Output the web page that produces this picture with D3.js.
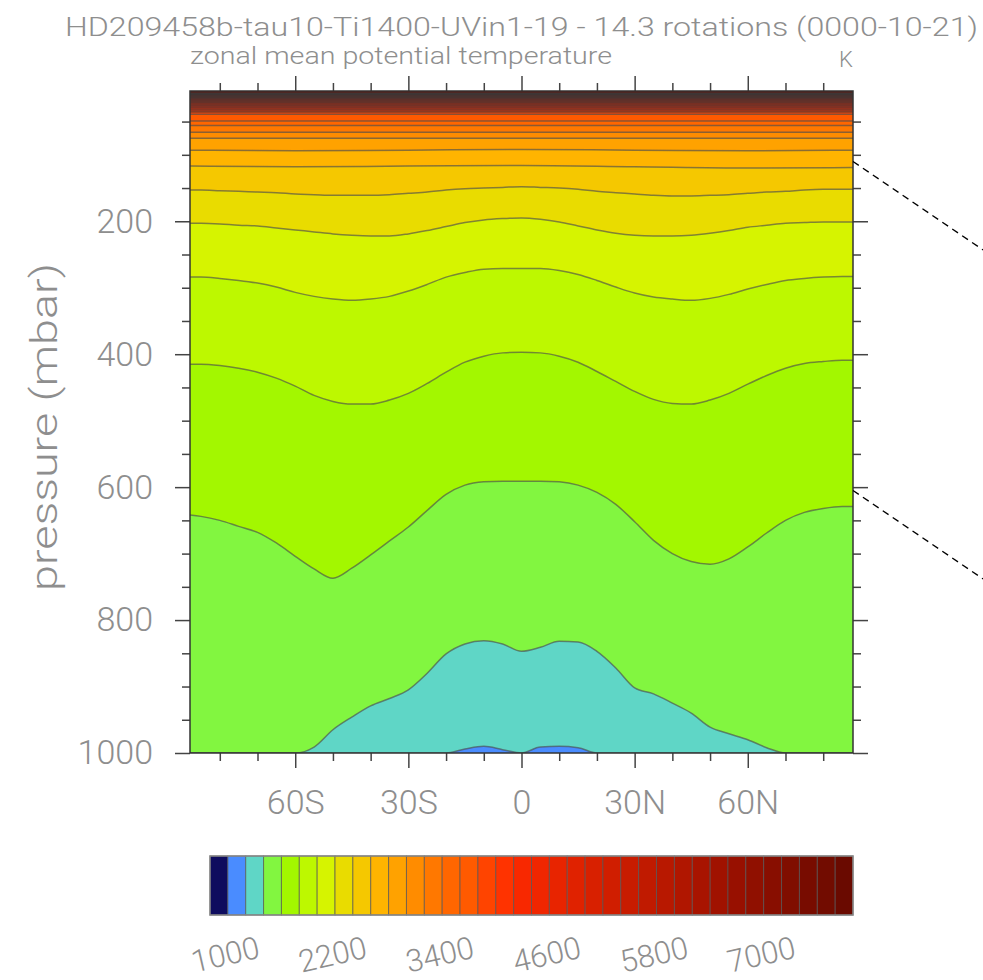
<!DOCTYPE html>
<html>
<head>
<meta charset="utf-8">
<script src="https://cdn.jsdelivr.net/npm/d3@7"></script>
<style>
  body { margin: 0; background: #fff; }
  text { font-family: Roboto, "Liberation Sans", sans-serif; font-weight: 300; fill: #8e8e8e; }
</style>
</head>
<body>
<div id="chart"></div>
<script>
// contour levels (K) and colour of each band of the key, lowest first
var levels = d3.range(1000, 7801, 200);
var bandColors = ["#0e0c5e", "#4a8cff", "#5fd6c6", "#82f640", "#a3f700", "#bdf800", "#d6f400", "#e9dc00",
  "#f5c800", "#ffb400", "#ffa200", "#ff8c00", "#ff7800", "#ff6600", "#ff5a00", "#ff4400", "#ff3300",
  "#f82800", "#f02600", "#e82400", "#e02200", "#d82000", "#d01e00", "#c81c00", "#c01a00", "#b81800",
  "#b01600", "#a81400", "#a01200", "#981000", "#901000", "#880e00", "#800e00", "#780c00", "#720c00", "#6a0a00"];
var keyLabels = [1000, 2200, 3400, 4600, 5800, 7000];

// latitude grid of the traced contours
var lat = [-87.9, -85, -80, -75, -70, -65, -60, -55, -50, -45, -40, -35, -30, -25, -20, -15, -10, -5, 0,
  5, 10, 15, 20, 25, 30, 35, 40, 45, 50, 55, 60, 65, 70, 75, 80, 85, 87.9];

// pressure (mbar) of each contour along lat
var p1200 = [1000, 1000, 1000, 1000, 1000, 1000, 1000, 1000, 1000, 1000, 1000, 1000, 1000, 1000, 1000, 994, 990, 995, 1000,
  991, 990, 992, 1000, 1000, 1000, 1000, 1000, 1000, 1000, 1000, 1000, 1000, 1000, 1000, 1000, 1000, 1000];
var p1400 = [1000, 1000, 1000, 1000, 1000, 1000, 1000, 991, 965, 946, 929, 918, 905, 880, 851, 836, 831, 836, 847,
  841, 832, 833, 847, 872, 902, 911, 925, 940, 961, 971, 980, 992, 1000, 1000, 1000, 1000, 1000];
var p1600 = [642, 644, 650, 659, 668, 684, 704, 723, 737, 722, 702, 681, 660, 635, 611, 597, 592, 591, 591,
  591, 592, 597, 608, 626, 652, 680, 700, 712, 716, 708, 690, 669, 650, 638, 632, 629, 629];
var p1800 = [415, 415, 417, 421, 427, 436, 448, 462, 471, 475, 475, 469, 459, 444, 427, 412, 403, 398, 397,
  398, 403, 412, 426, 441, 456, 468, 474, 475, 469, 459, 445, 432, 421, 414, 411, 409, 409];
var p2000 = [284, 284, 286, 289, 293, 299, 307, 313, 317, 319, 317, 313, 305, 295, 284, 277, 272, 271, 271,
  271, 274, 280, 289, 299, 308, 314, 317, 319, 316, 310, 302, 295, 289, 286, 284, 283, 283];
var p2200 = [203, 203, 204, 206, 207, 210, 213, 216, 219, 221, 222, 222, 219, 214, 208, 202, 198, 196, 195,
  197, 201, 207, 213, 218, 221, 222, 222, 221, 218, 214, 209, 206, 203, 202, 201, 201, 201];
var p2400 = [153, 153, 154, 155, 156, 157, 159, 160, 161, 161, 161, 160, 158, 156, 153, 151, 150, 149, 148,
  149, 150, 152, 155, 157, 159, 161, 162, 162, 161, 160, 158, 156, 155, 153, 152, 152, 152];

// upper contours are almost flat: coarse latitudes
var latCoarse = [-87.9, -60, -30, 0, 30, 60, 87.9];
var p2600 = [117, 118, 117, 116, 118, 120, 119];
var p2800 = [93, 94, 93, 92, 93, 94, 93];

// dense levels near the model top, one pressure each
var upperLevels = [3000, 3200, 3400, 3600, 3800, 4000, 4200, 4400, 4600, 4800, 5000, 5200, 5400, 5600,
  5800, 6000, 6200, 6400, 6600, 6800, 7000, 7200, 7400, 7600, 7800];
var upperP = [75, 66, 56, 49, 39, 35, 32, 29.5, 27.5, 25.5, 23.5, 21.5, 20, 18.5, 17, 15.5, 14.5,
  13.5, 12.5, 11.5, 10.5, 9.5, 8.7, 8, 7.3];

// axes
var pMajor = [200, 400, 600, 800, 1000];
var pMinor = [50, 100, 150, 250, 300, 350, 450, 500, 550, 650, 700, 750, 850, 900, 950];
var latMajor = [-60, -30, 0, 30, 60];
var latMajorLabels = ["60S", "30S", "0", "30N", "60N"];
var latMinor = [-80, -70, -50, -40, -20, -10, 10, 20, 40, 50, 70, 80];
var zoomP = [110, 605];

var width = 983, height = 980;
var pTop = 4;

var svg = d3.select("#chart").append("svg")
  .attr("width", width)
  .attr("height", height);

var x = d3.scaleLinear().domain([-87.9, 87.9]).range([190, 853]);
var y = d3.scaleLinear().domain([pTop, 1000]).range([91, 753]);

var contours = [
  {level: 1200, lat: lat, p: p1200},
  {level: 1400, lat: lat, p: p1400},
  {level: 1600, lat: lat, p: p1600},
  {level: 1800, lat: lat, p: p1800},
  {level: 2000, lat: lat, p: p2000},
  {level: 2200, lat: lat, p: p2200},
  {level: 2400, lat: lat, p: p2400},
  {level: 2600, lat: latCoarse, p: p2600},
  {level: 2800, lat: latCoarse, p: p2800}
];
upperLevels.forEach(function(l, i) {
  contours.push({level: l, lat: [-87.9, 87.9], p: [upperP[i], upperP[i]]});
});
contours.forEach(function(c, i) {
  c.pts = c.lat.map(function(la, j) { return [la, c.p[j]]; });
  // packed lines near the top merge into one dark band
  var next = contours[i + 1];
  var gap = next ? y(d3.min(c.p)) - y(d3.max(next.p)) : y(d3.min(c.p)) - y(pTop);
  c.width = c.level >= 4000 ? Math.max(1.5, gap + 0.3) : 1.5;
});

function colorAbove(level) { return bandColors[levels.indexOf(level) + 1]; }

svg.append("clipPath").attr("id", "plotclip")
  .append("rect")
  .attr("x", x.range()[0]).attr("y", y.range()[0])
  .attr("width", x.range()[1] - x.range()[0])
  .attr("height", y.range()[1] - y.range()[0]);

var plot = svg.append("g").attr("clip-path", "url(#plotclip)");

// 1000-1200 K band underneath everything
plot.append("rect")
  .attr("x", x.range()[0]).attr("y", y.range()[0])
  .attr("width", x.range()[1] - x.range()[0])
  .attr("height", y.range()[1] - y.range()[0])
  .attr("fill", bandColors[1]);

var area = d3.area()
  .curve(d3.curveMonotoneX)
  .x(function(d) { return x(d[0]); })
  .y0(y(pTop) - 2)
  .y1(function(d) { return y(d[1]); });

var line = d3.line()
  .curve(d3.curveMonotoneX)
  .x(function(d) { return x(d[0]); })
  .y(function(d) { return y(d[1]); });

plot.selectAll(".band")
  .data(contours)
  .enter().append("path")
  .attr("class", "band")
  .attr("d", function(c) { return area(c.pts); })
  .attr("fill", function(c) { return colorAbove(c.level); });

plot.selectAll(".cline")
  .data(contours)
  .enter().append("path")
  .attr("class", "cline")
  .attr("d", function(c) { return line(c.pts); })
  .attr("fill", "none")
  .attr("stroke", function(c) { return c.level >= 4000 ? "#3a3a3a" : "#4d4d4d"; })
  .attr("stroke-opacity", function(c) { return c.level >= 4000 ? 0.6 : 0.65; })
  .attr("stroke-width", function(c) { return c.width; });

// ticks
function tickAxis(axis, vals, size) {
  return axis.tickValues(vals).tickSize(size).tickFormat("");
}
var axes = svg.append("g").attr("class", "axes");
axes.append("g").attr("transform", "translate(" + x.range()[0] + ",0)").call(tickAxis(d3.axisLeft(y), pMinor, 8));
axes.append("g").attr("transform", "translate(" + x.range()[1] + ",0)").call(tickAxis(d3.axisRight(y), pMinor, 8));
axes.append("g").attr("transform", "translate(" + x.range()[1] + ",0)").call(tickAxis(d3.axisRight(y), pMajor, 15));
axes.append("g").attr("transform", "translate(0," + y.range()[0] + ")").call(tickAxis(d3.axisTop(x), latMinor, 8));
axes.append("g").attr("transform", "translate(0," + y.range()[0] + ")").call(tickAxis(d3.axisTop(x), latMajor, 15));
axes.append("g").attr("transform", "translate(0," + y.range()[1] + ")").call(tickAxis(d3.axisBottom(x), latMinor, 8));

var yAxis = axes.append("g")
  .attr("transform", "translate(" + x.range()[0] + ",0)")
  .call(d3.axisLeft(y).tickValues(pMajor).tickSize(15).tickPadding(22).tickFormat(d3.format("d")));
var xAxis = axes.append("g")
  .attr("transform", "translate(0," + y.range()[1] + ")")
  .call(d3.axisBottom(x).tickValues(latMajor).tickSize(15).tickPadding(22)
    .tickFormat(function(d, i) { return latMajorLabels[i]; }));

axes.selectAll(".domain").remove();
axes.selectAll(".tick line").attr("stroke", "#444").attr("stroke-width", 1.5);
axes.selectAll("text")
  .attr("fill", "#9a9a9a")
  .style("font-family", "Roboto, 'Liberation Sans', sans-serif")
  .style("font-weight", 300)
  .style("font-size", "34px");

// frame
svg.append("rect")
  .attr("x", x.range()[0]).attr("y", y.range()[0])
  .attr("width", x.range()[1] - x.range()[0])
  .attr("height", y.range()[1] - y.range()[0])
  .attr("fill", "none")
  .attr("stroke", "#333")
  .attr("stroke-width", 1.5);

// dashed zoom guides to the (cropped) inset on the right
svg.selectAll(".guide")
  .data(zoomP)
  .enter().append("line")
  .attr("x1", x.range()[1])
  .attr("y1", function(d) { return y(d); })
  .attr("x2", width)
  .attr("y2", function(d) { return y(d) + (width - x.range()[1]) * 0.68; })
  .attr("stroke", "#000")
  .attr("stroke-width", 1.3)
  .attr("stroke-dasharray", "7,5");

// titles
svg.append("text")
  .attr("x", 65).attr("y", 36)
  .attr("textLength", 913).attr("lengthAdjust", "spacingAndGlyphs")
  .style("font-size", "25px")
  .attr("fill", "#888")
  .text("HD209458b-tau10-Ti1400-UVin1-19 -  14.3 rotations (0000-10-21)");

svg.append("text")
  .attr("x", 190).attr("y", 64)
  .attr("textLength", 422).attr("lengthAdjust", "spacingAndGlyphs")
  .style("font-size", "23px")
  .text("zonal mean potential temperature");

svg.append("text")
  .attr("x", 853).attr("y", 67)
  .attr("text-anchor", "end")
  .style("font-size", "22px")
  .text("K");

svg.append("text")
  .attr("transform", "translate(57," + ((y.range()[0] + y.range()[1]) / 2 + 5) + ") rotate(-90)")
  .attr("text-anchor", "middle")
  .attr("textLength", 328).attr("lengthAdjust", "spacingAndGlyphs")
  .style("font-size", "36px")
  .attr("fill", "#a0a0a0")
  .text("pressure (mbar)");

// colour key
var key = svg.append("g");
var kx = d3.scaleLinear().domain([800, 8000]).range([210, 853]);
var keyBands = bandColors.map(function(c, i) { return {color: c, lo: 800 + i * 200}; });

key.selectAll("rect")
  .data(keyBands)
  .enter().append("rect")
  .attr("x", function(d) { return kx(d.lo); })
  .attr("y", 856)
  .attr("width", function(d) { return kx(d.lo + 200) - kx(d.lo); })
  .attr("height", 59)
  .attr("fill", function(d) { return d.color; })
  .attr("stroke", "#555")
  .attr("stroke-opacity", 0.7)
  .attr("stroke-width", 1);

key.append("rect")
  .attr("x", kx.range()[0]).attr("y", 856)
  .attr("width", kx.range()[1] - kx.range()[0]).attr("height", 59)
  .attr("fill", "none")
  .attr("stroke", "#888")
  .attr("stroke-width", 1.5);

key.selectAll(".klabel")
  .data(keyLabels)
  .enter().append("text")
  .attr("class", "klabel")
  .attr("transform", function(d) { return "translate(" + kx(d) + ",965) rotate(-13)"; })
  .attr("text-anchor", "middle")
  .style("font-size", "31px")
  .attr("fill", "#999")
  .text(function(d) { return d; });
</script>
</body>
</html>
